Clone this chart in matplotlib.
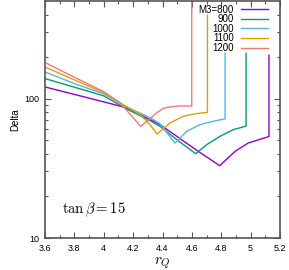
import matplotlib
matplotlib.use("Agg")
import matplotlib.pyplot as plt
from matplotlib.ticker import FixedLocator, NullFormatter

plt.rcParams['font.family'] = ['Liberation Sans', 'DejaVu Sans']
plt.rcParams['mathtext.fontset'] = 'cm'

# r_Q / Delta values, one curve per M3
r_800 = [3.6, 3.8, 4.0, 4.15, 4.315, 4.383, 4.519, 4.655, 4.79, 4.894, 4.984, 5.125, 5.125]
d_800 = [121, 107, 94.6, 86, 70.6, 65, 51.6, 41, 33, 41.8, 48, 53.4, 204]

r_900 = [3.6, 3.8, 4.0, 4.15, 4.315, 4.383, 4.497, 4.626, 4.701, 4.792, 4.882, 4.969, 4.969]
d_900 = [139, 120.5, 104.5, 84.7, 69.5, 63.2, 50.7, 40.2, 46.7, 53.6, 59.8, 63.4, 211]

r_1000 = [3.6, 3.8, 4.0, 4.15, 4.315, 4.383, 4.485, 4.565, 4.655, 4.746, 4.826, 4.826]
d_1000 = [155, 128, 108, 87.5, 73, 65.8, 47.9, 58.2, 65, 68.7, 71.5, 211]

r_1100 = [3.6, 3.8, 4.0, 4.111, 4.247, 4.315, 4.363, 4.451, 4.542, 4.633, 4.706, 4.706]
d_1100 = [168, 136, 110, 93.1, 76.7, 65, 55.6, 66.8, 74.6, 78, 79.6, 395]

r_1200 = [3.6, 3.8, 4.0, 4.111, 4.201, 4.252, 4.315, 4.361, 4.405, 4.451, 4.52, 4.599, 4.599]
d_1200 = [181, 142, 112, 93.1, 72.6, 63.2, 71.5, 79, 85, 87, 88.5, 88.3, 600]

labels = ["M3=800", "900", "1000", "1100", "1200"]
colors = ["#9400d3", "#009e73", "#56b4e9", "#e69f00", "#f87878"]

x_ticks = [3.6, 3.8, 4.0, 4.2, 4.4, 4.6, 4.8, 5.0, 5.2]
x_ticklabels = ["3.6", "3.8", "4", "4.2", "4.4", "4.6", "4.8", "5", "5.2"]

fig = plt.figure(figsize=(2.89, 2.70), dpi=100)
ax = fig.add_axes([45/289, 32/270, 235/289, 237/270])

curves = [(r_800, d_800), (r_900, d_900), (r_1000, d_1000), (r_1100, d_1100), (r_1200, d_1200)]
for (r, d), lab, c in zip(curves, labels, colors):
    ax.plot(r, d, color=c, lw=1.0, label=lab)

ax.set_yscale('log')
ax.set_xlim(3.6, 5.2)
ax.set_ylim(10, 500)

ax.set_xticks(x_ticks)
ax.set_xticklabels(x_ticklabels)
ax.xaxis.set_minor_locator(FixedLocator([3.7, 3.9, 4.1, 4.3, 4.5, 4.7, 4.9, 5.1]))
ax.set_yticks([10, 100])
ax.set_yticklabels(["10", "100"])
ax.yaxis.set_minor_locator(FixedLocator([20, 30, 40, 50, 60, 70, 80, 90, 200, 300, 400]))
ax.yaxis.set_minor_formatter(NullFormatter())

edge = '#555555'
for s in ax.spines.values():
    s.set_color(edge)
    s.set_linewidth(1.2)
ax.tick_params(which='both', direction='in', top=True, right=True, color=edge,
               labelsize=6.5, pad=4)
ax.tick_params(which='major', length=4, width=0.8)
ax.tick_params(which='minor', length=2, width=0.8)

ax.set_xlabel(r'$r_Q$', fontsize=11, labelpad=2)
ax.set_ylabel('Delta', fontsize=7, labelpad=3)

ax.text(0.21, 0.12, r'$\tan\beta = 15$', transform=ax.transAxes,
        fontsize=10.5, ha='center', va='center')

ax.legend(loc='upper right', bbox_to_anchor=(0.948, 0.985), frameon=False,
          markerfirst=False, fontsize=7, handlelength=2.8, handletextpad=0.7,
          labelspacing=-0.04, borderaxespad=0, borderpad=0)

plt.savefig('out.png', dpi=100)
